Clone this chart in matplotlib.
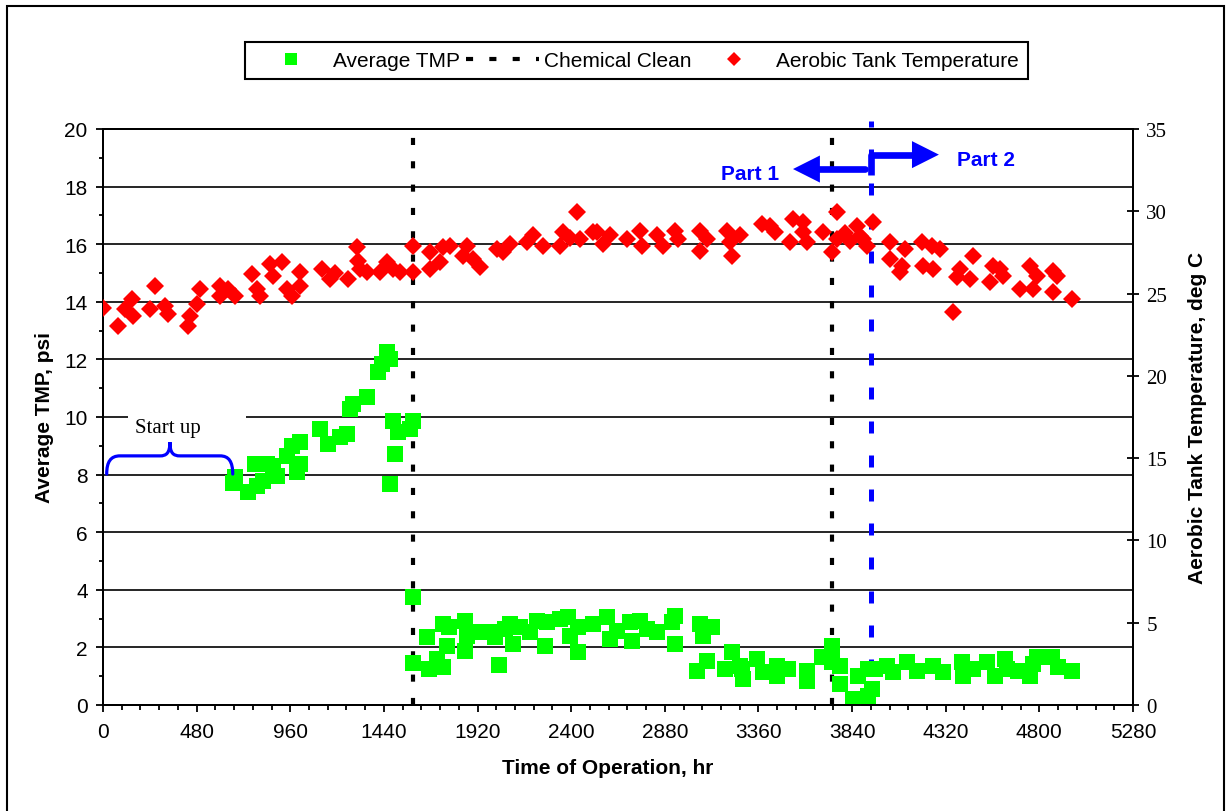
import matplotlib
matplotlib.use("Agg")
import matplotlib.pyplot as plt
from matplotlib.lines import Line2D
from matplotlib.patches import Rectangle, Polygon, PathPatch
from matplotlib.path import Path
from matplotlib.ticker import MultipleLocator

plt.rcParams['font.family'] = ['Liberation Sans', 'DejaVu Sans']

# ---------------- data ----------------
tmp_hr = [666, 677, 743, 779, 789, 820, 841, 871, 892, 943, 969, 994, 1010, 1010,
          1113, 1153, 1215, 1251, 1266, 1282, 1353, 1410, 1430, 1456, 1471, 1487,
          1497, 1471, 1512, 1574, 1589,
          1588, 1588, 1659, 1671, 1712, 1743, 1743, 1763, 1774, 1856, 1856, 1866,
          1933, 1984, 2009, 2030, 2061, 2086, 2102, 2138, 2189, 2225, 2266, 2276,
          2343, 2384, 2394, 2435, 2435, 2512, 2584, 2599, 2635, 2701, 2712, 2753,
          2789, 2840, 2917, 2932, 2932, 3045, 3060, 3076, 3096, 3122, 3189, 3224,
          3265, 3274, 3281, 3353, 3383, 3455, 3455, 3511, 3609, 3609, 3686, 3737,
          3737, 3778, 3778, 3845, 3870, 3922, 3922, 3942, 3958, 4019, 4050, 4121,
          4173, 4255, 4306, 4403, 4409, 4460, 4532, 4573, 4624, 4634, 4690, 4752,
          4767, 4788, 4865, 4896, 4967]
tmp_psi = [7.7, 7.9, 7.38, 8.37, 7.62, 7.79, 8.37, 8.3, 7.96, 8.66, 9.0, 8.08, 9.12, 8.37,
           9.58, 9.06, 9.3, 9.41, 10.28, 10.45, 10.68, 11.55, 11.84, 12.25, 12.01, 9.87,
           8.72, 7.67, 9.47, 9.58, 9.87,
           3.76, 1.46, 2.35, 1.25, 1.6, 2.81, 1.31, 2.06, 2.7, 2.93, 1.89, 2.41,
           2.52, 2.52, 2.35, 1.4, 2.64, 2.81, 2.12, 2.7, 2.52, 2.93, 2.06, 2.87,
           2.99, 3.04, 2.41, 1.85, 2.7, 2.81, 3.04, 2.29, 2.58, 2.87, 2.23, 2.93,
           2.64, 2.52, 2.87, 3.1, 2.12, 1.19, 2.81, 2.41, 1.54, 2.7, 1.25, 1.83,
           1.36, 1.25, 0.9, 1.6, 1.13, 1.36, 1.02, 1.25, 1.19, 0.84, 1.66, 2.06,
           1.48, 1.36, 0.73, 0.21, 1.02, 1.25, 0.32, 0.56, 1.25, 1.36, 1.13, 1.48,
           1.19, 1.36, 1.13, 1.48, 1.02, 1.25, 1.48, 1.02, 1.6, 1.25, 1.19, 1.02,
           1.42, 1.66, 1.66, 1.31, 1.19]

temp_hr = [2, 77, 113, 147, 154, 241, 267, 318, 333, 436, 446, 482, 497, 600, 600,
           641, 677, 764, 789, 805, 856, 871, 918, 943, 969, 1010, 1010, 1123, 1164,
           1189, 1256, 1302, 1307, 1317, 1353, 1420, 1456, 1487, 1522, 1589, 1589,
           1676, 1676, 1727, 1743, 1779, 1845, 1866, 1897, 1933, 2020, 2050, 2086,
           2173, 2204, 2255, 2343, 2358, 2394, 2430, 2445, 2512, 2532, 2563, 2599,
           2686, 2753, 2763, 2840, 2871, 2932, 2948, 3060, 3060, 3096, 3199, 3214,
           3224, 3265, 3378, 3419, 3445, 3522, 3537, 3588, 3588, 3609, 3691, 3737,
           3763, 3763, 3804, 3829, 3865, 3880, 3896, 3916, 3947, 4034, 4034, 4086,
           4096, 4111, 4198, 4203, 4250, 4255, 4291, 4357, 4378, 4393, 4444, 4460,
           4547, 4562, 4598, 4614, 4701, 4752, 4767, 4788, 4870, 4870, 4890, 4967]
temp_c = [24.15, 23.03, 24.06, 24.68, 23.63, 24.06, 25.48, 24.26, 23.77, 23.05, 23.66,
          24.36, 25.27, 25.48, 24.85, 25.27, 24.85, 26.2, 25.27, 24.85, 26.78, 26.08,
          26.9, 25.27, 24.85, 26.29, 25.48, 26.5, 25.88, 26.25, 25.88, 27.8, 27.0,
          26.5, 26.29, 26.29, 26.9, 26.5, 26.29, 27.91, 26.29, 27.51, 26.5, 26.9,
          27.8, 27.91, 27.3, 27.91, 27.1, 26.6, 27.7, 27.51, 28.0, 28.12, 28.53,
          27.91, 27.91, 28.72, 28.35, 29.93, 28.32, 28.72, 28.72, 28.0, 28.53, 28.32,
          28.82, 27.91, 28.53, 27.91, 28.82, 28.32, 28.82, 27.6, 28.32, 28.82, 28.12,
          27.3, 28.53, 29.23, 29.12, 28.72, 28.12, 29.54, 29.33, 28.72, 28.12, 28.72,
          27.51, 29.93, 28.32, 28.7, 28.2, 29.12, 28.5, 28.32, 27.91, 29.33, 28.12,
          27.09, 26.29, 26.69, 27.7, 28.12, 26.69, 27.91, 26.5, 27.7, 23.87, 25.99,
          26.5, 25.88, 27.3, 25.69, 26.69, 26.5, 26.08, 25.27, 26.69, 25.27, 26.08,
          26.39, 25.08, 26.08, 24.68]

clean_hr = [1591, 3735]
part_split_hr = 3937

x_ticks = list(range(0, 5281, 480))
y1_ticks = list(range(0, 21, 2))
y2_ticks = list(range(0, 36, 5))

GREEN = '#00FF00'
RED = '#FF0000'
BLUE = '#0000FF'
FS = 15

W, H = 1231, 812
fig = plt.figure(figsize=(W / 100, H / 100), dpi=100)

# figure frame
fig.patches.append(Rectangle((7 / W, -0.05), 1217 / W, 1.05 - 7 / H, transform=fig.transFigure,
                             fill=False, edgecolor='k', lw=1.5, clip_on=False))

ax1 = fig.add_axes([103 / W, 1 - 706 / H, 1030 / W, 576 / H])
ax2 = ax1.twinx()

ax1.set_xlim(0, 5280)
ax1.set_ylim(0, 20)
ax2.set_ylim(0, 35)

ax1.set_xticks(x_ticks)
ax1.xaxis.set_minor_locator(MultipleLocator(96))
ax1.set_yticks(y1_ticks)
ax1.yaxis.set_minor_locator(MultipleLocator(1))
ax2.set_yticks(y2_ticks)

ax1.yaxis.grid(True, color='k', lw=1.2)
ax1.set_axisbelow(True)

for ax in (ax1, ax2):
    for s in ax.spines.values():
        s.set_linewidth(1.4)

ax1.tick_params(axis='x', which='major', direction='out', length=5, width=1.3, labelsize=FS, pad=7)
ax1.tick_params(axis='x', which='minor', direction='out', length=3.5, width=1.3)
ax1.tick_params(axis='y', which='major', direction='out', length=5, width=1.3, labelsize=FS, pad=6)
ax1.tick_params(axis='y', which='minor', direction='out', length=3, width=1.3)
ax2.tick_params(axis='y', which='major', direction='inout', length=9, width=1.3, labelsize=FS, pad=5)
for lab in ax2.get_yticklabels():
    lab.set_family(['Liberation Serif', 'DejaVu Serif'])

ax1.set_xlabel('Time of Operation, hr', fontsize=FS, fontweight='bold')
ax1.xaxis.set_label_coords(0.49, -0.092)
ax1.set_ylabel('Average TMP, psi', fontsize=FS, fontweight='bold')
ax1.yaxis.set_label_coords(-0.048, 0.5)
ax2.set_ylabel('Aerobic Tank Temperature, deg C', fontsize=FS, fontweight='bold')
ax2.yaxis.set_label_coords(1.053, 0.5)

# vertical lines
for c in clean_hr:
    ax1.plot([c, c], [0, 20.25], color='k', lw=3, ls=(0, (1.7, 3.9)), clip_on=False, zorder=2.5)
ax1.plot([part_split_hr, part_split_hr], [0, 20.28], color=BLUE, lw=3.6, ls=(0, (2.4, 4.4)),
         clip_on=False, zorder=2.5)

# data
ax1.plot(tmp_hr, tmp_psi, ls='none', marker='s', ms=11, color=GREEN, mew=0, zorder=3)
ax2.plot(temp_hr, temp_c, ls='none', marker='D', ms=9.4, color=RED, mew=0, zorder=3)

# Start up annotation
ax1.add_patch(Rectangle((128, 9.25), 605, 1.0, facecolor='white', edgecolor='none', zorder=2))
ax1.text(331, 9.48, 'Start up', ha='center', va='baseline', fontsize=FS,
         family=['Liberation Serif', 'DejaVu Serif'], zorder=4)
verts = [(19, 8.02), (19, 8.45), (40, 8.65), (87, 8.65),
         (292, 8.65),
         (325, 8.65), (343, 8.75), (343, 9.13),
         (343, 8.75), (360, 8.65), (395, 8.65),
         (600, 8.65),
         (645, 8.65), (665, 8.45), (665, 8.02)]
codes = [Path.MOVETO, Path.CURVE4, Path.CURVE4, Path.CURVE4,
         Path.LINETO,
         Path.CURVE4, Path.CURVE4, Path.CURVE4,
         Path.CURVE4, Path.CURVE4, Path.CURVE4,
         Path.LINETO,
         Path.CURVE4, Path.CURVE4, Path.CURVE4]
ax1.add_patch(PathPatch(Path(verts, codes), facecolor='none', edgecolor=BLUE, lw=2.3,
                        capstyle='round', zorder=4))

# Part arrows
ax1.plot([3905, 3670], [18.61, 18.61], color=BLUE, lw=4.8, solid_capstyle='round', zorder=5)
ax1.add_patch(Polygon([(3537, 18.61), (3675, 19.08), (3675, 18.14)], closed=True,
                      facecolor=BLUE, edgecolor='none', zorder=5))
ax1.plot([3937, 3937, 4150], [18.4, 19.11, 19.11], color=BLUE, lw=4.8,
         solid_capstyle='butt', solid_joinstyle='round', zorder=5)
ax1.add_patch(Polygon([(4285, 19.11), (4147, 19.58), (4147, 18.64)], closed=True,
                      facecolor=BLUE, edgecolor='none', zorder=5))
ax1.text(3317, 18.26, 'Part 1', ha='center', va='baseline', fontsize=FS,
         fontweight='bold', color=BLUE, zorder=5)
ax1.text(4526, 18.75, 'Part 2', ha='center', va='baseline', fontsize=FS,
         fontweight='bold', color=BLUE, zorder=5)

# legend
handles = [Line2D([], [], ls='none', marker='s', ms=8.4, color=GREEN, mew=0),
           Line2D([], [], color='k', lw=3, ls=(0, (1.7, 3.9))),
           Line2D([], [], ls='none', marker='D', ms=7.1, color=RED, mew=0)]
labels = ['Average TMP', 'Chemical Clean', 'Aerobic Tank Temperature']
leg = fig.legend(handles, labels, loc='center', bbox_to_anchor=(636.5 / W, 1 - 61.5 / H),
                 ncol=3, frameon=True, fancybox=False, edgecolor='k', framealpha=1,
                 fontsize=FS, handlelength=3.5, handletextpad=0.25, columnspacing=0.3,
                 borderpad=0.45, borderaxespad=0)
leg.get_frame().set_linewidth(1.5)

fig.savefig('out.png', dpi=100)
